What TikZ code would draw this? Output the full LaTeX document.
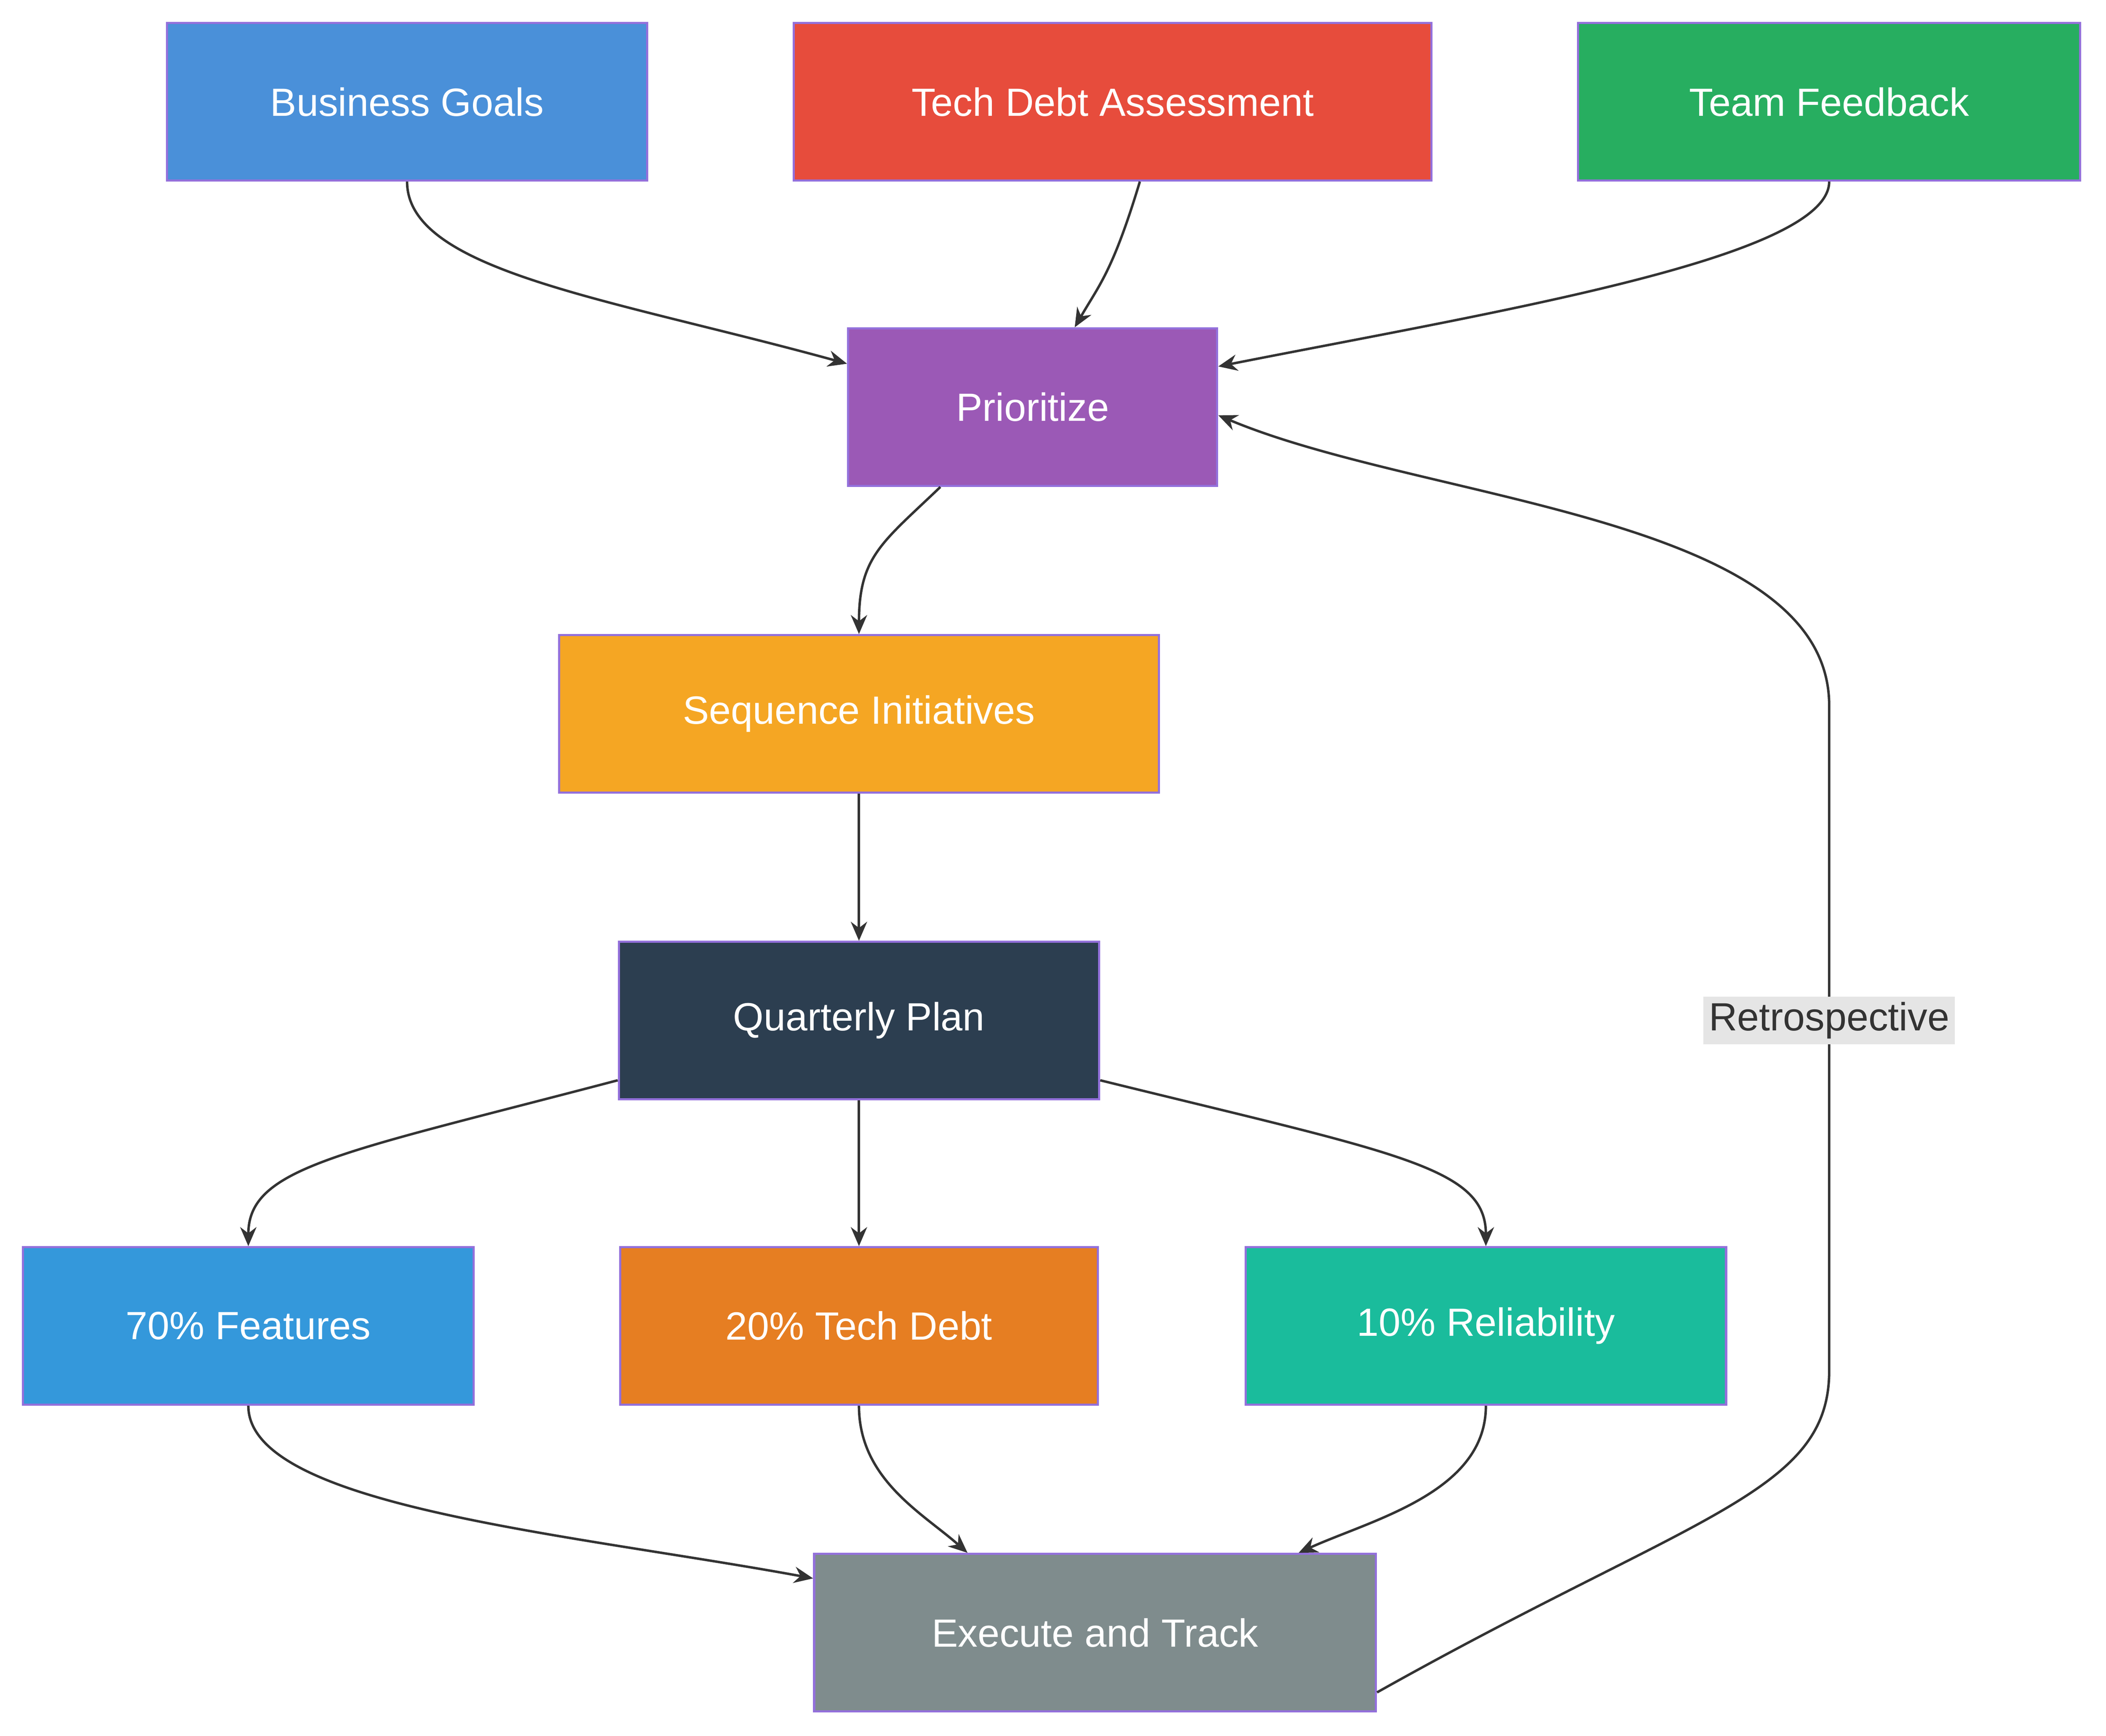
\documentclass[tikz,border=0pt]{standalone}
\usepackage{fontspec}
\setmainfont{Liberation Sans}
\usetikzlibrary{arrows.meta}
\definecolor{cbiz}{HTML}{4A90D9}
\definecolor{cdebt}{HTML}{E74C3C}
\definecolor{cteam}{HTML}{27AE60}
\definecolor{cprio}{HTML}{9B59B6}
\definecolor{cseq}{HTML}{F5A623}
\definecolor{cquar}{HTML}{2C3E50}
\definecolor{cfeat}{HTML}{3498DB}
\definecolor{ctd}{HTML}{E67E22}
\definecolor{crel}{HTML}{1ABC9C}
\definecolor{cexec}{HTML}{7F8C8D}
\definecolor{cedge}{HTML}{9370DB}
\definecolor{cline}{HTML}{333333}
\begin{document}
\begin{tikzpicture}[x=0.5pt,y=-0.5pt,
	box/.style={draw=cedge,line width=0.8pt,text=white,minimum height=58pt,font=\fontsize{14.5}{17}\selectfont},
	flow/.style={draw=cline,line width=0.9pt,-{Stealth[length=7pt,width=6pt]}}]
	\useasboundingbox (0,0) rectangle (1552,1279);
	\node[box,fill=cbiz,minimum width=177pt] (goals) at (300,75) {Business Goals};
	\node[box,fill=cdebt,minimum width=235pt] (assess) at (820,75) {Tech Debt Assessment};
	\node[box,fill=cteam,minimum width=185pt] (feedback) at (1348,75) {Team Feedback};
	\node[box,fill=cprio,minimum width=136pt] (prio) at (761,300) {Prioritize};
	\node[box,fill=cseq,minimum width=221pt] (seq) at (633,526) {Sequence Initiatives};
	\node[box,fill=cquar,minimum width=177pt] (plan) at (633,752) {Quarterly Plan};
	\node[box,fill=cfeat,minimum width=166pt] (feat) at (183,977) {70\% Features};
	\node[box,fill=ctd,minimum width=176pt] (debt) at (633,977) {20\% Tech Debt};
	\node[box,fill=crel,minimum width=177pt] (rel) at (1095,977) {10\% Reliability};
	\node[box,fill=cexec,minimum width=207pt] (exec) at (807,1203) {Execute and Track};
	%
	\draw[flow] ([xshift=-230.5pt]prio.south east |- goals.south) ++(0,0) (goals.south) .. controls (300,200) and (450,220) .. ([yshift=16pt]prio.west);
	\draw[flow] ([xshift=10pt]assess.south) .. controls (820,200) and (810,210) .. ([xshift=15.5pt]prio.north);
	\draw[flow] (feedback.south) .. controls (1348,190) and (1100,230) .. ([yshift=15pt]prio.east);
	\draw[flow] ([xshift=-34pt]prio.south) .. controls (650,400) and (633,410) .. (seq.north);
	\draw[flow] (seq) -- (plan);
	\draw[flow] ([yshift=-22pt]plan.west) .. controls (250,850) and (183,860) .. (feat.north);
	\draw[flow] (plan) -- (debt);
	\draw[flow] ([yshift=-22pt]plan.east) .. controls (1030,850) and (1095,860) .. (rel.north);
	\draw[flow] (feat.south) .. controls (183,1110) and (420,1130) .. ([yshift=20pt]exec.west);
	\draw[flow] (debt.south) .. controls (633,1090) and (680,1115) .. ([xshift=-47pt]exec.north);
	\draw[flow] (rel.south) .. controls (1095,1100) and (1010,1120) .. ([xshift=75pt]exec.north);
	\draw[flow] ([yshift=-22pt]exec.east) .. controls (1250,1115) and (1348,1100) .. (1348,1010)
		-- (1348,520) .. controls (1348,380) and (1050,370) .. ([yshift=-3pt]prio.east);
	\node[fill=black!10,text=cline,inner sep=2pt,font=\fontsize{14.5}{17}\selectfont] (retro) at (1348,752) {Retrospective};
\end{tikzpicture}
\end{document}
